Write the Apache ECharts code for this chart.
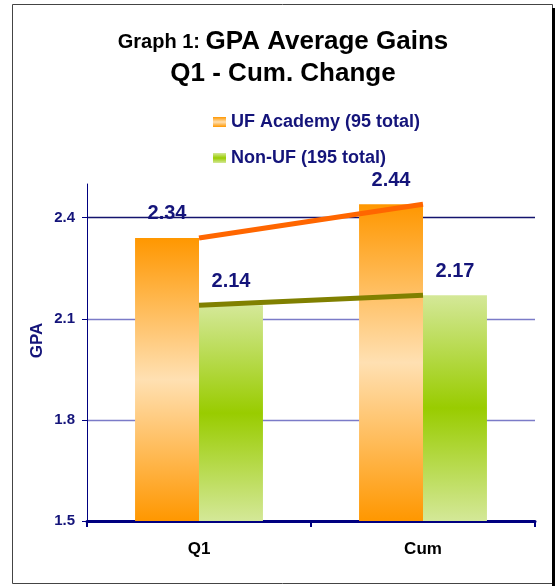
<!DOCTYPE html>
<html>
<head>
<meta charset="utf-8">
<script src="https://cdn.jsdelivr.net/npm/echarts@6/dist/echarts.min.js"></script>
<style>html,body{margin:0;padding:0;background:#fff}#c{width:555px;height:586px}</style>
</head>
<body>
<div id="c"></div>
<script>
const categories = ['Q1', 'Cum'];
const ufAcademy = [2.34, 2.44];
const nonUF = [2.14, 2.17];
const seriesNames = ['UF Academy (95 total)', 'Non-UF (195 total)'];
const yTicks = [1.5, 1.8, 2.1, 2.4];
const titleText = '{a|Graph 1: }{b|GPA Average Gains}\n{b|Q1 - Cum. Change}';

const FONT = 'Arial, "Liberation Sans", sans-serif';
const NAVY = '#14147a';

const orangeGrad = new echarts.graphic.LinearGradient(0, 0, 0, 1, [
  {offset: 0, color: '#FF9700'},
  {offset: 0.5, color: '#FFE0B2'},
  {offset: 1, color: '#FF9700'}
]);
const greenGrad = new echarts.graphic.LinearGradient(0, 0, 0, 1, [
  {offset: 0, color: '#D4E898'},
  {offset: 0.5, color: '#99CC00'},
  {offset: 1, color: '#D4E898'}
]);

const chart = echarts.init(document.getElementById('c'), null, {renderer: 'canvas'});
chart.setOption({
  animation: false,
  backgroundColor: '#fff',
  legend: {
    data: seriesNames,
    orient: 'vertical',
    left: 208,
    top: 108,
    icon: 'rect',
    itemWidth: 13,
    itemHeight: 10,
    itemGap: 18,
    textStyle: {fontFamily: FONT, fontWeight: 'bold', fontSize: 18, color: NAVY, lineHeight: 18}
  },
  grid: {left: 87, right: 20, top: 184, bottom: 65},
  xAxis: {
    type: 'category',
    data: categories,
    axisLine: {lineStyle: {color: '#000080', width: 3}},
    axisTick: {show: true, length: 6, lineStyle: {color: '#000080', width: 2}},
    axisLabel: {fontFamily: FONT, fontWeight: 'bold', fontSize: 17, color: '#000', margin: 20}
  },
  yAxis: {
    type: 'value',
    min: 1.5,
    max: 2.5,
    interval: 0.3,
    name: 'GPA',
    nameLocation: 'middle',
    nameGap: 41,
    nameMoveOverlap: false,
    nameTextStyle: {fontFamily: FONT, fontWeight: 'bold', fontSize: 17, color: NAVY, padding: [0, 0, 0, 24]},
    axisLine: {show: true, lineStyle: {color: '#000080', width: 1}},
    axisTick: {show: true, length: 5, lineStyle: {color: '#000080'}},
    axisLabel: {
      fontFamily: FONT, fontWeight: 'bold', fontSize: 15, color: NAVY, margin: 12,
      showMaxLabel: false,
      formatter: v => yTicks.some(t => Math.abs(t - v) < 1e-6) ? v.toFixed(1) : ''
    },
    splitLine: {
      show: true,
      showMaxLine: false,
      lineStyle: {color: ['#000080', '#7B7BC8', '#7B7BC8', '#14146e'], width: 1.3}
    }
  },
  series: [
    {
      name: seriesNames[0],
      type: 'bar',
      data: ufAcademy,
      barGap: '0%',
      barCategoryGap: '42.9%',
      itemStyle: {color: orangeGrad},
      label: {show: true, position: 'top', distance: 14, fontFamily: FONT, fontWeight: 'bold', fontSize: 20, color: NAVY, formatter: p => p.value.toFixed(2)},
      z: 2
    },
    {
      name: seriesNames[1],
      type: 'bar',
      data: nonUF,
      itemStyle: {color: greenGrad},
      label: {show: true, position: 'top', distance: 14, fontFamily: FONT, fontWeight: 'bold', fontSize: 20, color: NAVY, formatter: p => p.value.toFixed(2)},
      z: 2
    },
    {
      name: 'uf-line',
      type: 'line',
      data: ufAcademy,
      symbol: 'none',
      lineStyle: {color: '#FF6600', width: 5},
      z: 3
    },
    {
      name: 'nonuf-line',
      type: 'line',
      data: nonUF,
      symbol: 'none',
      lineStyle: {color: '#808000', width: 5},
      z: 3
    }
  ],
  graphic: [
    {
      type: 'text', x: 283, y: 58, z: 100,
      style: {
        text: titleText,
        align: 'center',
        verticalAlign: 'middle',
        rich: {
          a: {fontFamily: FONT, fontWeight: 'bold', fontSize: 20, fill: '#000', lineHeight: 32},
          b: {fontFamily: FONT, fontWeight: 'bold', fontSize: 26, fill: '#000', lineHeight: 32}
        }
      }
    },
    {type: 'rect', shape: {x: 12.5, y: 4.5, width: 540, height: 579}, style: {fill: null, stroke: '#444', lineWidth: 1}, z: 100},
    {type: 'line', shape: {x1: 553.5, y1: 8, x2: 553.5, y2: 586}, style: {stroke: '#000', lineWidth: 3}, z: 100}
  ]
});
</script>
</body>
</html>
